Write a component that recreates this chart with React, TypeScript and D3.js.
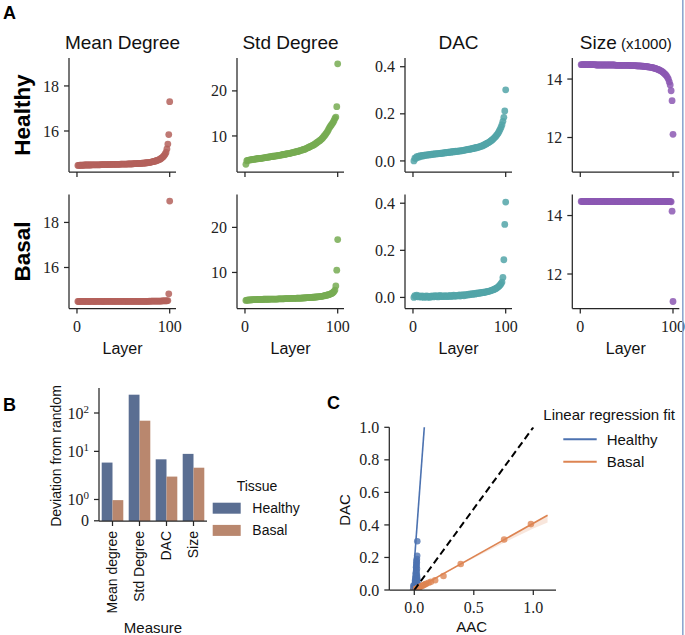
import React from "react";
import * as d3 from "d3";

// ---------------- DATA ----------------
const COLUMN_TITLES = ["Mean Degree", "Std Degree", "DAC", "Size"];
const ROW_LABELS = ["Healthy", "Basal"];
const COLUMN_COLORS = ["#b4625c", "#77ab52", "#52a5a8", "#8c58b3"];
const A_Y_TICKS = [[16, 18], [10, 20], [0, 0.2, 0.4], [12, 14]];
const A_X_TICKS = [0, 100];

const H_MEAN = [
  14.47, 14.47, 14.48, 14.48, 14.48, 14.48, 14.48, 14.49, 14.49, 14.49,
  14.49, 14.49, 14.49, 14.49, 14.49, 14.5, 14.5, 14.5, 14.5, 14.5,
  14.5, 14.5, 14.5, 14.5, 14.5, 14.51, 14.51, 14.51, 14.51, 14.51,
  14.51, 14.51, 14.51, 14.51, 14.51, 14.51, 14.52, 14.52, 14.52, 14.52,
  14.52, 14.52, 14.52, 14.52, 14.52, 14.52, 14.53, 14.53, 14.53, 14.53,
  14.53, 14.53, 14.53, 14.53, 14.54, 14.54, 14.54, 14.54, 14.54, 14.54,
  14.55, 14.55, 14.55, 14.55, 14.55, 14.56, 14.56, 14.56, 14.56, 14.57,
  14.57, 14.57, 14.58, 14.58, 14.59, 14.59, 14.6, 14.6, 14.61, 14.62,
  14.63, 14.64, 14.65, 14.66, 14.67, 14.69, 14.7, 14.72, 14.74, 14.76,
  14.79, 14.82, 14.86, 14.91, 14.97, 15.05, 15.2, 15.42, 15.84, 17.3,
];
const B_MEAN = [
  14.49, 14.49, 14.5, 14.49, 14.5, 14.5, 14.5, 14.49, 14.5, 14.5,
  14.5, 14.5, 14.49, 14.5, 14.5, 14.5, 14.5, 14.5, 14.49, 14.5,
  14.5, 14.5, 14.5, 14.5, 14.5, 14.5, 14.5, 14.49, 14.5, 14.5,
  14.5, 14.5, 14.5, 14.5, 14.5, 14.5, 14.5, 14.5, 14.5, 14.5,
  14.5, 14.5, 14.5, 14.5, 14.5, 14.5, 14.5, 14.5, 14.5, 14.5,
  14.5, 14.5, 14.5, 14.5, 14.5, 14.5, 14.5, 14.5, 14.5, 14.5,
  14.5, 14.5, 14.5, 14.5, 14.5, 14.5, 14.5, 14.5, 14.5, 14.5,
  14.5, 14.5, 14.5, 14.5, 14.5, 14.5, 14.5, 14.51, 14.5, 14.51,
  14.51, 14.51, 14.51, 14.51, 14.51, 14.51, 14.51, 14.51, 14.51, 14.51,
  14.51, 14.52, 14.52, 14.52, 14.52, 14.52, 14.52, 14.53, 14.83, 18.95,
];
const H_STD = [
  3.7, 4.5, 4.6, 4.6, 4.7, 4.7, 4.7, 4.8, 4.8, 4.8,
  4.9, 4.9, 4.9, 5.0, 5.0, 5.0, 5.0, 5.1, 5.1, 5.1,
  5.2, 5.2, 5.2, 5.3, 5.3, 5.3, 5.4, 5.4, 5.4, 5.5,
  5.5, 5.5, 5.6, 5.6, 5.6, 5.7, 5.7, 5.7, 5.8, 5.8,
  5.9, 5.9, 5.9, 6.0, 6.0, 6.1, 6.1, 6.1, 6.2, 6.2,
  6.3, 6.3, 6.4, 6.4, 6.5, 6.5, 6.6, 6.6, 6.7, 6.8,
  6.8, 6.9, 7.0, 7.0, 7.1, 7.2, 7.3, 7.4, 7.5, 7.6,
  7.7, 7.8, 7.9, 8.0, 8.1, 8.3, 8.4, 8.6, 8.7, 8.9,
  9.0, 9.2, 9.4, 9.6, 9.9, 10.1, 10.4, 10.7, 11.0, 11.4,
  11.8, 12.1, 12.4, 12.7, 13.0, 13.4, 13.9, 14.2, 16.5, 26.0,
];
const B_STD = [
  3.8, 3.85, 3.85, 3.9, 3.9, 3.9, 3.9, 3.95, 3.95, 3.95,
  3.95, 3.95, 4.0, 4.0, 4.0, 4.0, 4.0, 4.0, 4.0, 4.05,
  4.05, 4.05, 4.05, 4.05, 4.05, 4.05, 4.1, 4.1, 4.1, 4.1,
  4.1, 4.1, 4.1, 4.1, 4.1, 4.15, 4.15, 4.15, 4.15, 4.15,
  4.15, 4.15, 4.2, 4.2, 4.2, 4.2, 4.2, 4.2, 4.2, 4.25,
  4.25, 4.25, 4.25, 4.25, 4.25, 4.3, 4.3, 4.3, 4.3, 4.3,
  4.3, 4.35, 4.35, 4.35, 4.35, 4.4, 4.4, 4.4, 4.4, 4.45,
  4.45, 4.45, 4.5, 4.5, 4.5, 4.55, 4.55, 4.6, 4.6, 4.65,
  4.65, 4.7, 4.7, 4.75, 4.8, 4.85, 4.9, 4.95, 5.0, 5.05,
  5.1, 5.2, 5.3, 5.4, 5.55, 5.75, 6.1, 7.0, 10.5, 17.3,
];
const H_DAC = [
  0.0, 0.012, 0.01, 0.018, 0.015, 0.02, 0.017, 0.022, 0.02, 0.024,
  0.021, 0.025, 0.023, 0.026, 0.024, 0.027, 0.025, 0.028, 0.026, 0.029,
  0.027, 0.03, 0.028, 0.031, 0.029, 0.031, 0.03, 0.032, 0.031, 0.033,
  0.032, 0.034, 0.033, 0.035, 0.034, 0.036, 0.035, 0.037, 0.036, 0.038,
  0.037, 0.039, 0.038, 0.04, 0.039, 0.041, 0.04, 0.042, 0.041, 0.043,
  0.042, 0.044, 0.043, 0.045, 0.045, 0.047, 0.046, 0.048, 0.048, 0.05,
  0.049, 0.051, 0.051, 0.053, 0.052, 0.055, 0.054, 0.057, 0.056, 0.059,
  0.058, 0.061, 0.061, 0.064, 0.063, 0.067, 0.068, 0.071, 0.072, 0.075,
  0.077, 0.079, 0.082, 0.085, 0.088, 0.091, 0.095, 0.099, 0.103, 0.108,
  0.113, 0.119, 0.126, 0.134, 0.143, 0.154, 0.168, 0.185, 0.212, 0.302,
];
const B_DAC = [
  0.0, 0.008, 0.003, 0.01, 0.005, 0.002, 0.007, 0.004, 0.001, 0.006,
  0.003, 0.0, 0.005, 0.002, 0.006, 0.001, 0.004, 0.0, 0.005, 0.003,
  0.007, 0.002, 0.005, 0.008, 0.003, 0.006, 0.002, 0.005, 0.009, 0.004,
  0.006, 0.003, 0.007, 0.004, 0.008, 0.005, 0.003, 0.007, 0.005, 0.009,
  0.004, 0.007, 0.006, 0.01, 0.005, 0.008, 0.006, 0.009, 0.007, 0.011,
  0.006, 0.01, 0.008, 0.012, 0.007, 0.011, 0.009, 0.013, 0.01, 0.014,
  0.011, 0.015, 0.012, 0.016, 0.013, 0.017, 0.014, 0.018, 0.016, 0.019,
  0.017, 0.02, 0.018, 0.021, 0.02, 0.022, 0.021, 0.024, 0.023, 0.025,
  0.025, 0.027, 0.027, 0.029, 0.03, 0.032, 0.033, 0.035, 0.037, 0.039,
  0.042, 0.045, 0.049, 0.053, 0.058, 0.065, 0.085, 0.16, 0.31, 0.405,
];
const H_SIZE = [
  14.49, 14.49, 14.49, 14.49, 14.49, 14.49, 14.49, 14.49, 14.49, 14.49,
  14.49, 14.49, 14.49, 14.49, 14.49, 14.49, 14.48, 14.48, 14.48, 14.48,
  14.48, 14.48, 14.48, 14.48, 14.48, 14.48, 14.48, 14.48, 14.48, 14.48,
  14.48, 14.48, 14.48, 14.48, 14.48, 14.48, 14.48, 14.47, 14.47, 14.47,
  14.47, 14.47, 14.47, 14.47, 14.47, 14.47, 14.47, 14.47, 14.47, 14.47,
  14.47, 14.47, 14.47, 14.46, 14.46, 14.46, 14.46, 14.46, 14.46, 14.46,
  14.45, 14.45, 14.45, 14.45, 14.45, 14.44, 14.44, 14.44, 14.43, 14.43,
  14.43, 14.42, 14.42, 14.41, 14.41, 14.4, 14.4, 14.39, 14.38, 14.37,
  14.36, 14.35, 14.34, 14.33, 14.31, 14.3, 14.28, 14.26, 14.24, 14.21,
  14.18, 14.15, 14.11, 14.06, 14.0, 13.9, 13.8, 13.6, 13.26, 12.11,
];
const B_SIZE = [
  14.48, 14.48, 14.48, 14.48, 14.48, 14.48, 14.48, 14.48, 14.48, 14.48,
  14.48, 14.48, 14.48, 14.48, 14.48, 14.48, 14.48, 14.48, 14.48, 14.48,
  14.48, 14.48, 14.48, 14.48, 14.48, 14.48, 14.48, 14.48, 14.48, 14.48,
  14.48, 14.48, 14.48, 14.48, 14.48, 14.48, 14.48, 14.48, 14.48, 14.48,
  14.48, 14.48, 14.48, 14.48, 14.48, 14.48, 14.48, 14.48, 14.48, 14.48,
  14.48, 14.48, 14.48, 14.48, 14.48, 14.48, 14.48, 14.48, 14.48, 14.48,
  14.48, 14.48, 14.48, 14.48, 14.48, 14.48, 14.48, 14.48, 14.48, 14.48,
  14.48, 14.48, 14.48, 14.48, 14.48, 14.48, 14.48, 14.48, 14.48, 14.48,
  14.48, 14.48, 14.48, 14.48, 14.48, 14.48, 14.48, 14.48, 14.48, 14.48,
  14.48, 14.48, 14.48, 14.48, 14.48, 14.48, 14.48, 14.47, 14.15, 11.06,
];

// Panel B
const B_MEASURES = ["Mean degree", "Std Degree", "DAC", "Size"];
const B_TISSUES = ["Healthy", "Basal"];
const B_HEALTHY = [5.1, 300, 6.2, 8.6];
const B_BASAL = [0.97, 63, 2.2, 3.75];
const B_TISSUE_COLORS = ["#5a6e92", "#b9876e"];
const B_Y_TICKS = [0, 1, 10, 100];

// Panel C
const C_HEALTHY_AAC = [
  -0.01, 0.0, 0.02, -0.005, 0.012, 0.025, 0.005, 0.018, -0.008, 0.028,
  0.01, 0.022, 0.003, 0.015, 0.027, 0.008, 0.02, 0.012, 0.024, 0.006,
  0.018, 0.026, 0.014, 0.02, 0.01, 0.023, 0.016, 0.021, 0.013, 0.019,
  0.017, 0.022, 0.015, 0.02, 0.018, 0.021, 0.019, 0.022, 0.024, 0.025,
];
const C_HEALTHY_DAC = [
  0.0, 0.01, 0.012, 0.015, 0.018, 0.02, 0.022, 0.024, 0.026, 0.028,
  0.03, 0.032, 0.035, 0.038, 0.04, 0.043, 0.046, 0.05, 0.053, 0.056,
  0.06, 0.064, 0.068, 0.072, 0.077, 0.082, 0.088, 0.095, 0.103, 0.11,
  0.12, 0.13, 0.14, 0.15, 0.16, 0.17, 0.18, 0.19, 0.21, 0.3,
];
const C_BASAL_AAC = [
  0.0, 0.003, 0.006, 0.01, 0.012, 0.015, 0.02, 0.025, 0.03, 0.035, 0.04, 0.05,
  0.06, 0.07, 0.08, 0.09, 0.1, 0.12, 0.14, 0.175, 0.245, 0.39, 0.755, 0.98,
];
const C_BASAL_DAC = [
  0.0, 0.002, 0.003, 0.004, 0.005, 0.006, 0.008, 0.01, 0.012, 0.013, 0.015, 0.02,
  0.024, 0.028, 0.03, 0.035, 0.038, 0.045, 0.05, 0.06, 0.086, 0.16, 0.31, 0.405,
];
const C_FIT_NAMES = ["Healthy", "Basal"];
const C_FIT_COLORS = ["#4c72b0", "#dd8452"];
const C_FIT_SLOPE = [9.9, 0.41];
const C_FIT_INTERCEPT = [0.168, 0.0];
const C_FIT_XRANGE = [-0.05, 1.12];
const C_BAND_X = [-0.05, 0.2, 0.4, 0.6, 0.8, 1.0, 1.12];
const C_BAND_LO = [-0.022, 0.08, 0.158, 0.234, 0.308, 0.378, 0.415];
const C_BAND_HI = [-0.018, 0.084, 0.166, 0.248, 0.33, 0.412, 0.462];
const C_Y_TICKS = [0, 0.2, 0.4, 0.6, 0.8, 1.0];
const C_X_TICKS = [0, 0.5, 1.0];

// ---------------- HELPERS ----------------
const SANS = "'Liberation Sans', Arial, sans-serif";
const SERIF = "'Liberation Serif', 'DejaVu Serif', serif";
const TICK_FS = 16;
const INK = "#262626";

const LINTHRESH = 2;
const LINSCALE_ADJ = 1 / (1 - 1 / 10);
function symlog(v: number) {
  return v <= LINTHRESH ? v * LINSCALE_ADJ : LINTHRESH * (LINSCALE_ADJ + Math.log10(v / LINTHRESH));
}

export default function App() {
  const W = 685;
  const H = 635;

  // ---- Panel A layout ----
  const colLeft = [69, 237, 405, 572.3];
  const axW = 107;
  const rowTop = [58, 194.5];
  const axH = 114;
  const yDomains = [[14.18, 19.24], [2.0, 27.3], [-0.047, 0.437], [10.82, 14.72]];
  const seriesByRow = [
    [H_MEAN, H_STD, H_DAC, H_SIZE],
    [B_MEAN, B_STD, B_DAC, B_SIZE],
  ];
  const layers = H_MEAN.map((_, i) => i + 1);

  const panelA: React.ReactNode[] = [];
  for (let r = 0; r < 2; r++) {
    for (let c = 0; c < 4; c++) {
      const left = colLeft[c];
      const top = rowTop[r];
      const bottom = top + axH;
      const x = d3.scaleLinear().domain([-8.6, 106.8]).range([left, left + axW]);
      const y = d3.scaleLinear().domain(yDomains[c]).range([bottom, top]);
      const fmt = c === 2 ? d3.format(".1f") : d3.format("d");
      const data = seriesByRow[r][c];
      panelA.push(
        <g key={`a-${r}-${c}`}>
          {data.map((v, i) => (
            <circle key={i} cx={x(layers[i])} cy={y(v)} r={3.4} fill={COLUMN_COLORS[c]} fillOpacity={0.85} />
          ))}
          <line x1={left} x2={left} y1={top} y2={bottom} stroke={INK} strokeWidth={1.25} />
          <line x1={left} x2={left + axW} y1={bottom} y2={bottom} stroke={INK} strokeWidth={1.25} />
          {A_Y_TICKS[c].map((t) => (
            <g key={t}>
              <line x1={left - 5} x2={left} y1={y(t)} y2={y(t)} stroke={INK} strokeWidth={1.25} />
              <text x={left - 10} y={y(t)} dy="0.35em" textAnchor="end" fontFamily={SERIF} fontSize={TICK_FS} fill="#222">
                {fmt(t)}
              </text>
            </g>
          ))}
          {A_X_TICKS.map((t) => (
            <g key={t}>
              <line x1={x(t)} x2={x(t)} y1={bottom} y2={bottom + 5} stroke={INK} strokeWidth={1.25} />
              {r === 1 && (
                <text x={x(t)} y={331.5} textAnchor="middle" fontFamily={SERIF} fontSize={TICK_FS} fill="#222">
                  {t}
                </text>
              )}
            </g>
          ))}
          {r === 1 && (
            <text x={left + axW / 2} y={354} textAnchor="middle" fontFamily={SANS} fontSize={16} fill="#111">
              Layer
            </text>
          )}
          {r === 0 &&
            (c === 3 ? (
              <text x={left + axW / 2} y={48.5} textAnchor="middle" fontFamily={SANS} fontSize={19} fill="#111">
                {COLUMN_TITLES[c]}
                <tspan fontSize={15}> (x1000)</tspan>
              </text>
            ) : (
              <text x={left + axW / 2} y={48.5} textAnchor="middle" fontFamily={SANS} fontSize={19} fill="#111">
                {COLUMN_TITLES[c]}
              </text>
            ))}
        </g>
      );
    }
  }

  // ---- Panel B ----
  const bLeft = 99;
  const bRight = 207;
  const bBottom = 521;
  const bTop = 388;
  const bx = d3.scaleBand<string>().domain(B_MEASURES).range([bLeft, bRight]).padding(0);
  const bStep = bx.step();
  const bSub = d3.scaleBand<string>().domain(B_TISSUES).range([0.1 * bStep, 0.9 * bStep]).padding(0);
  const byT = d3.scaleLinear().domain([0, symlog(100)]).range([520.8, 413]);
  const by = (v: number) => byT(symlog(v));
  const bValues = [B_HEALTHY, B_BASAL];

  // ---- Panel C ----
  const cLeft = 389.3;
  const cRight = 556;
  const cTop = 427.3;
  const cBottom = 590;
  const cx = d3.scaleLinear().domain([0, 1]).range([414.3, 533.3]);
  const cy = d3.scaleLinear().domain([0, 1]).range([cBottom, cTop]);
  const band = d3
    .area<number>()
    .x((_, i) => cx(C_BAND_X[i]))
    .y0((_, i) => cy(C_BAND_LO[i]))
    .y1((_, i) => cy(C_BAND_HI[i]));
  const fitLine = d3
    .line<number>()
    .x((d) => cx(d[0]))
    .y((d) => cy(d[1]));

  return (
    <svg width={W} height={H} viewBox={`0 0 ${W} ${H}`} style={{ position: "absolute", left: 0, top: 0, background: "#fff" }}>
      <rect x={0} y={0} width={W} height={H} fill="#fff" />
      <defs>
        <clipPath id="clipC">
          <rect x={cLeft} y={cTop} width={cRight - cLeft} height={cBottom - cTop} />
        </clipPath>
      </defs>

      {/* Panel letters */}
      <text x={3} y={19} fontFamily={SANS} fontWeight="bold" fontSize={18} fill="#000">A</text>
      <text x={3} y={411} fontFamily={SANS} fontWeight="bold" fontSize={18} fill="#000">B</text>
      <text x={327} y={408.5} fontFamily={SANS} fontWeight="bold" fontSize={18} fill="#000">C</text>

      {/* Row labels */}
      {ROW_LABELS.map((lab, r) => (
        <text
          key={lab}
          transform={`translate(30,${rowTop[r] + axH / 2}) rotate(-90)`}
          textAnchor="middle"
          fontFamily={SANS}
          fontWeight="bold"
          fontSize={22.5}
          fill="#000"
        >
          {lab}
        </text>
      ))}

      {panelA}

      {/* ---- Panel B ---- */}
      <g>
        {B_MEASURES.map((m, i) =>
          B_TISSUES.map((t, k) => (
            <rect
              key={`${m}-${t}`}
              x={(bx(m) as number) + (bSub(t) as number)}
              y={by(bValues[k][i])}
              width={bSub.bandwidth()}
              height={bBottom - by(bValues[k][i])}
              fill={B_TISSUE_COLORS[k]}
            />
          ))
        )}
        <line x1={bLeft} x2={bLeft} y1={bTop} y2={bBottom} stroke={INK} strokeWidth={1.25} />
        <line x1={bLeft} x2={bRight} y1={bBottom} y2={bBottom} stroke={INK} strokeWidth={1.25} />
        {B_Y_TICKS.map((t) => (
          <g key={t}>
            <line x1={bLeft - 5} x2={bLeft} y1={by(t)} y2={by(t)} stroke={INK} strokeWidth={1.25} />
            <text x={bLeft - 10} y={by(t)} dy="0.35em" textAnchor="end" fontFamily={SERIF} fontSize={TICK_FS} fill="#222">
              {t === 0 ? (
                "0"
              ) : (
                <>
                  10
                  <tspan fontSize={11} dy={-6}>
                    {Math.round(Math.log10(t))}
                  </tspan>
                </>
              )}
            </text>
          </g>
        ))}
        {B_MEASURES.map((m) => {
          const xc = (bx(m) as number) + bStep / 2;
          return (
            <g key={m}>
              <line x1={xc} x2={xc} y1={bBottom} y2={bBottom + 5} stroke={INK} strokeWidth={1.25} />
              <text
                transform={`translate(${xc},${bBottom + 10}) rotate(-90)`}
                dy="0.35em"
                textAnchor="end"
                fontFamily={SANS}
                fontSize={14}
                fill="#111"
              >
                {m}
              </text>
            </g>
          );
        })}
        <text x={153} y={632.5} textAnchor="middle" fontFamily={SANS} fontSize={15} fill="#111">
          Measure
        </text>
        <text
          transform={`translate(61,456) rotate(-90)`}
          textAnchor="middle"
          fontFamily={SANS}
          fontSize={14}
          fill="#111"
        >
          Deviation from random
        </text>
        {/* legend */}
        <text x={236.7} y={490.7} fontFamily={SANS} fontSize={14} fill="#111">
          Tissue
        </text>
        {B_TISSUES.map((t, k) => (
          <g key={t}>
            <rect x={212.7} y={502.7 + k * 22.2} width={28} height={11} fill={B_TISSUE_COLORS[k]} />
            <text x={252.3} y={513 + k * 22.2} fontFamily={SANS} fontSize={14} fill="#111">
              {t}
            </text>
          </g>
        ))}
      </g>

      {/* ---- Panel C ---- */}
      <g>
        <g clipPath="url(#clipC)">
          <path d={band(C_BAND_X) || ""} fill={C_FIT_COLORS[1]} fillOpacity={0.2} />
          {C_HEALTHY_AAC.map((a, i) => (
            <circle key={`h${i}`} cx={cx(a)} cy={cy(C_HEALTHY_DAC[i])} r={3.3} fill={C_FIT_COLORS[0]} fillOpacity={0.8} />
          ))}
          {C_BASAL_AAC.map((a, i) => (
            <circle key={`b${i}`} cx={cx(a)} cy={cy(C_BASAL_DAC[i])} r={3.3} fill={C_FIT_COLORS[1]} fillOpacity={0.8} />
          ))}
          {C_FIT_NAMES.map((n, k) => (
            <path
              key={n}
              d={
                fitLine(
                  C_FIT_XRANGE.map((xv) => [xv, C_FIT_SLOPE[k] * xv + C_FIT_INTERCEPT[k]] as [number, number])
                ) || ""
              }
              stroke={C_FIT_COLORS[k]}
              strokeWidth={1.6}
              fill="none"
            />
          ))}
          <path d={fitLine([[0, 0], [1, 1]]) || ""} stroke="#000" strokeWidth={2} strokeDasharray="7,4" fill="none" />
        </g>
        <line x1={cLeft} x2={cLeft} y1={cTop} y2={cBottom} stroke={INK} strokeWidth={1.25} />
        <line x1={cLeft} x2={cRight} y1={cBottom} y2={cBottom} stroke={INK} strokeWidth={1.25} />
        {C_Y_TICKS.map((t) => (
          <g key={t}>
            <line x1={cLeft - 5} x2={cLeft} y1={cy(t)} y2={cy(t)} stroke={INK} strokeWidth={1.25} />
            <text x={cLeft - 10} y={cy(t)} dy="0.35em" textAnchor="end" fontFamily={SERIF} fontSize={TICK_FS} fill="#222">
              {d3.format(".1f")(t)}
            </text>
          </g>
        ))}
        {C_X_TICKS.map((t) => (
          <g key={t}>
            <line x1={cx(t)} x2={cx(t)} y1={cBottom} y2={cBottom + 5} stroke={INK} strokeWidth={1.25} />
            <text x={cx(t)} y={612.5} textAnchor="middle" fontFamily={SERIF} fontSize={TICK_FS} fill="#222">
              {d3.format(".1f")(t)}
            </text>
          </g>
        ))}
        <text x={471.7} y={631.5} textAnchor="middle" fontFamily={SANS} fontSize={15} fill="#111">
          AAC
        </text>
        <text transform={`translate(350,510) rotate(-90)`} textAnchor="middle" fontFamily={SANS} fontSize={15} fill="#111">
          DAC
        </text>
        {/* legend */}
        <text x={543.3} y={420} fontFamily={SANS} fontSize={15} fill="#111">
          Linear regression fit
        </text>
        {C_FIT_NAMES.map((n, k) => (
          <g key={n}>
            <line x1={563.3} x2={596.7} y1={439.3 + k * 22.4} y2={439.3 + k * 22.4} stroke={C_FIT_COLORS[k]} strokeWidth={2} />
            <text x={606.7} y={444.5 + k * 22.4} fontFamily={SANS} fontSize={15} fill="#111">
              {n}
            </text>
          </g>
        ))}
      </g>

      {/* right border */}
      <rect x={682} y={0} width={1.6} height={H} fill="#8ea7cf" />
    </svg>
  );
}
